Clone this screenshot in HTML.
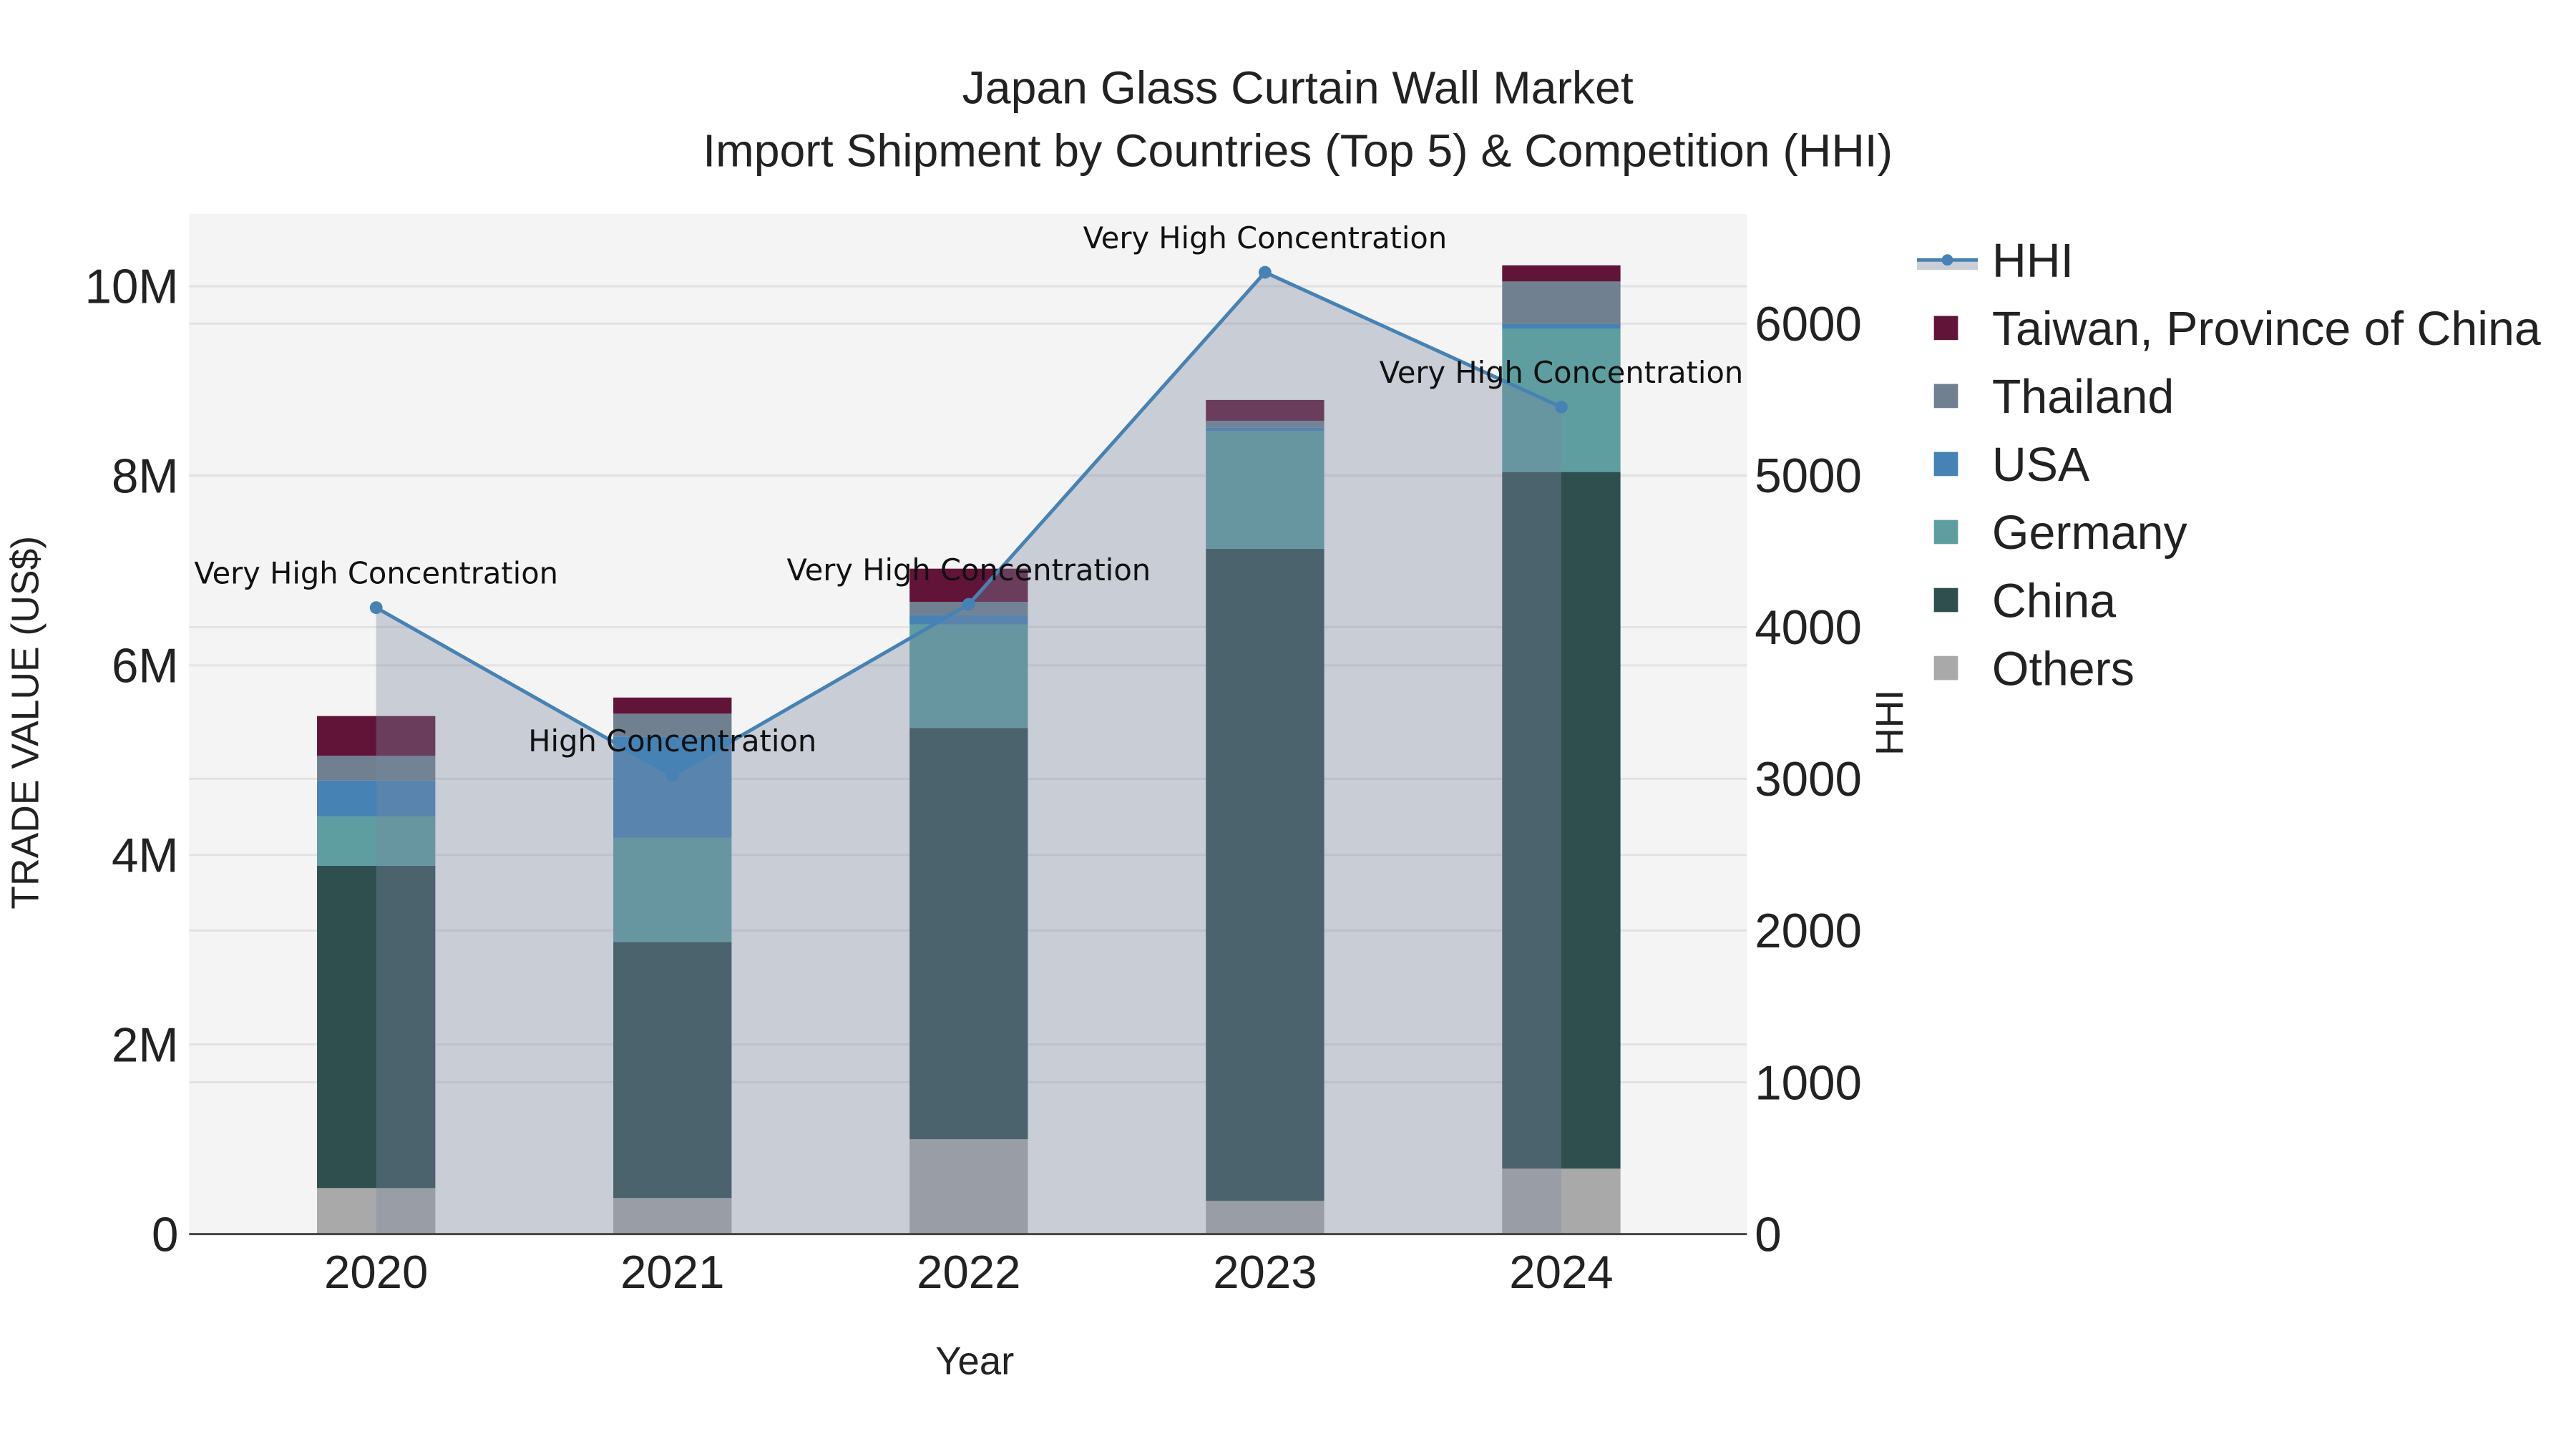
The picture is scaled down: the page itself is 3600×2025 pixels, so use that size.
<!DOCTYPE html>
<html><head><meta charset="utf-8">
<style>
html,body{margin:0;padding:0;background:#fff;}
svg{display:block;}
text{font-family:"Liberation Sans",Arial,sans-serif;}
</style></head>
<body>
<svg id="chart" width="3600" height="2025" viewBox="0 0 3600 2025" xmlns="http://www.w3.org/2000/svg">
 <g transform="scale(0.99)">
  <rect x="267" y="302" width="2199" height="1440" fill="#f4f4f4"/>
  <g id="grid"></g>
  <g id="bars"></g>
  <g id="hhi"></g>
  <g id="axes"></g>
  <text x="1832" y="146" font-size="65" text-anchor="middle" fill="#222">Japan Glass Curtain Wall Market</text>
  <text x="1832" y="235" font-size="65" text-anchor="middle" fill="#222">Import Shipment by Countries (Top 5) &amp; Competition (HHI)</text>
  <text x="1376" y="1940" font-size="55" text-anchor="middle" fill="#222">Year</text>
  <text transform="translate(54,1020) rotate(-90)" font-size="54" text-anchor="middle" fill="#222">TRADE VALUE (US$)</text>
  <text transform="translate(2686,1020) rotate(-90)" font-size="54" text-anchor="middle" fill="#222">HHI</text>
  <g id="legend"></g>
 </g>
</svg>
<script>
const NS="http://www.w3.org/2000/svg";
const years=["2020","2021","2022","2023","2024"];
const others=[0.485,0.38,1.0,0.35,0.69];
const china=[3.40,2.70,4.34,6.88,7.35];
const germany=[0.52,1.10,1.09,1.24,1.51];
const usa=[0.38,1.07,0.10,0.04,0.05];
const thailand=[0.26,0.24,0.14,0.07,0.45];
const taiwan=[0.42,0.17,0.35,0.22,0.17];
const hhi=[4128,3023,4150,6338,5450];
const hhiLabels=["Very High Concentration","High Concentration","Very High Concentration","Very High Concentration","Very High Concentration"];
const yTicks=[0,2,4,6,8,10];
const y2Ticks=[0,1000,2000,3000,4000,5000,6000];

const PL=267,PR=2466,PT=302,PB=1742;
const xC=i=>531+i*418.25;
const yV=v=>PB-v*133.8;
const y2V=v=>PB-v*0.2142;
const BW=167;

function mk(tag,attrs,parent){const e=document.createElementNS(NS,tag);for(const k in attrs)e.setAttribute(k,attrs[k]);parent.appendChild(e);return e;}
const grid=document.getElementById('grid'),bars=document.getElementById('bars'),hg=document.getElementById('hhi'),axes=document.getElementById('axes'),leg=document.getElementById('legend');

yTicks.forEach(t=>{
  if(t>0){const l=mk('line',{x1:PL,x2:PR,y1:yV(t),y2:yV(t),stroke:'#e2e2e2','stroke-width':3},grid);
  
  }
  const tx=mk('text',{x:252,y:yV(t)+24,'font-size':68,'text-anchor':'end',fill:'#222'},axes);tx.textContent=t===0?'0':t+'M';
  
  
});
y2Ticks.forEach(t=>{
  if(t>0){const l=mk('line',{x1:PL,x2:PR,y1:y2V(t),y2:y2V(t),stroke:'#e2e2e2','stroke-width':3},grid);
  
  }
  const tx=mk('text',{x:2477,y:y2V(t)+24,'font-size':68,fill:'#222'},axes);tx.textContent=String(t);
  
  
});
years.forEach((y,i)=>{
  const tx=mk('text',{x:xC(i),y:1818,'font-size':66,'text-anchor':'middle',fill:'#222'},axes);tx.textContent=y;
  
  
});
const zl=mk('line',{x1:PL,x2:PR,y1:PB,y2:PB,stroke:'#444','stroke-width':3},axes);



const series=[["Others",others,"#a9a9a9"],["China",china,"#2f4f4f"],["Germany",germany,"#5f9ea0"],["USA",usa,"#4682b4"],["Thailand",thailand,"#708090"],["Taiwan, Province of China",taiwan,"#611438"]];
years.forEach((y,i)=>{
  let base=0;
  series.forEach(s=>{
    const v=s[1][i];
    const r=mk('rect',{x:xC(i)-BW/2,y:yV(base+v),width:BW,height:yV(base)-yV(base+v),fill:s[2]},bars);
    
    
    base+=v;
  });
});

let d='M'+xC(0)+','+PB;
hhi.forEach((v,i)=>{d+=' L'+xC(i)+','+y2V(v);});
d+=' L'+xC(hhi.length-1)+','+PB+' Z';
const area=mk('path',{d:d,fill:'rgb(122,136,161)','fill-opacity':0.36},hg);


const line=mk('polyline',{points:hhi.map((v,i)=>xC(i)+','+y2V(v)).join(' '),fill:'none',stroke:'#4682b4','stroke-width':5},hg);


hhi.forEach((v,i)=>{
  const c=mk('circle',{cx:xC(i),cy:y2V(v),r:9,fill:'#4682b4'},hg);
  
  
  const t=mk('text',{x:xC(i),y:y2V(v)-34,'font-size':42,'text-anchor':'middle',fill:'#111',style:'font-family:"DejaVu Sans",sans-serif'},hg);
  t.textContent=hhiLabels[i];
  
  
});

const items=[["HHI",null],["Taiwan, Province of China","#611438"],["Thailand","#708090"],["USA","#4682b4"],["Germany","#5f9ea0"],["China","#2f4f4f"],["Others","#a9a9a9"]];
items.forEach((it,k)=>{
  const cy=367+k*96;
  const g=mk('g',{},leg);
  
  
  if(it[1]===null){
    mk('rect',{x:2706,y:cy,width:86,height:14,fill:'rgb(200,205,214)'},g);
    mk('line',{x1:2706,x2:2792,y1:cy,y2:cy,stroke:'#4682b4','stroke-width':5},g);
    mk('circle',{cx:2749,cy:cy,r:8,fill:'#4682b4'},g);
  } else {
    mk('rect',{x:2730,y:cy-17,width:34,height:34,fill:it[1]},g);
  }
  const t=mk('text',{x:2812,y:cy+24,'font-size':67,fill:'#222'},g);t.textContent=it[0];
});
</script>
</body></html>
